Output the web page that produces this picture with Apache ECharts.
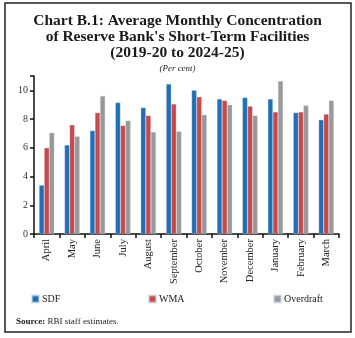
<!DOCTYPE html>
<html><head><meta charset="utf-8">
<script src="https://cdn.jsdelivr.net/npm/echarts@6/dist/echarts.min.js"></script>
<style>html,body{margin:0;padding:0;background:#fff}#c{width:355px;height:338px}</style>
</head><body><div id="c"></div>
<script>
const categories = ['April','May','June','July','August','September','October','November','December','January','February','March'];
const sdf = [3.4, 6.2, 7.2, 9.15, 8.8, 10.45, 10.0, 9.4, 9.5, 9.4, 8.45, 7.95];
const wma = [6.0, 7.6, 8.45, 7.55, 8.25, 9.05, 9.55, 9.3, 8.9, 8.5, 8.5, 8.35];
const overdraft = [7.05, 6.8, 9.6, 7.9, 7.1, 7.15, 8.3, 9.0, 8.25, 10.65, 8.95, 9.3];
const yTicks = [0, 2, 4, 6, 8, 10];

const serif = '"Liberation Serif", "DejaVu Serif", serif';
const chart = echarts.init(document.getElementById('c'), null, {renderer: 'canvas'});
const barStyle = (c) => ({color: c, borderColor: 'rgba(200,215,235,0.6)', borderWidth: 0.5});
const leg = (name, left) => ({
  data: [name], left: left, top: 292, itemWidth: 7, itemHeight: 7, icon: 'rect', padding: 2,
  textStyle: {fontFamily: serif, fontSize: 10, color: '#222', padding: [0,0,0,-2]}
});
chart.setOption({
  animation: false,
  title: [{
    text: 'Chart B.1: Average Monthly Concentration\nof Reserve Bank\'s Short-Term Facilities\n(2019-20 to 2024-25)',
    left: 'center', top: 8,
    textStyle: {fontFamily: serif, fontWeight: 'bold', fontSize: 15.5, lineHeight: 16, color: '#1a1a1a'}
  }, {
    text: '(Per cent)', left: 'center', top: 59,
    textStyle: {fontFamily: serif, fontStyle: 'italic', fontWeight: 'normal', fontSize: 9, color: '#222'}
  }, {
    text: '{b|Source:} {n|RBI staff estimates.}', left: 11, top: 312,
    textStyle: {fontFamily: serif, fontWeight: 'normal', fontSize: 9, color: '#222',
      rich: {b: {fontFamily: serif, fontWeight: 'bold', fontSize: 9, color: '#222'},
             n: {fontFamily: serif, fontWeight: 'normal', fontSize: 9, color: '#222'}}}
  }],
  graphic: [{type: 'rect', shape: {x: 5, y: 3, width: 346, height: 329}, style: {fill: 'none', stroke: '#222', lineWidth: 1.5}}],
  legend: [leg('SDF', 29), leg('WMA', 146), leg('Overdraft', 271)],
  grid: {left: 34, right: 16, top: 76, bottom: 104, containLabel: false},
  xAxis: {
    type: 'category', data: categories,
    axisLine: {lineStyle: {color: '#111', width: 1.5}},
    axisTick: {show: true, alignWithLabel: false, length: 4, lineStyle: {color: '#111', width: 1.5}},
    axisLabel: {rotate: 90, fontFamily: serif, fontSize: 10.5, color: '#222', margin: 5, interval: 0}
  },
  yAxis: {
    type: 'value', min: 0, max: 11, interval: 2,
    axisLine: {show: true, lineStyle: {color: '#111', width: 1.5}},
    axisTick: {show: true, length: 4, lineStyle: {color: '#111', width: 1.5}},
    splitLine: {show: false},
    axisLabel: {fontFamily: serif, fontSize: 10, color: '#333', margin: 6,
      formatter: (v) => yTicks.includes(v) ? String(v) : ''}
  },
  series: [
    {name: 'SDF', type: 'bar', data: sdf, barGap: '0%', barCategoryGap: '40%', itemStyle: barStyle('#1f6eb6')},
    {name: 'WMA', type: 'bar', data: wma, barGap: '0%', barCategoryGap: '40%', itemStyle: barStyle('#c9494b')},
    {name: 'Overdraft', type: 'bar', data: overdraft, barGap: '0%', barCategoryGap: '40%', itemStyle: barStyle('#999999')}
  ]
});
</script></body></html>
